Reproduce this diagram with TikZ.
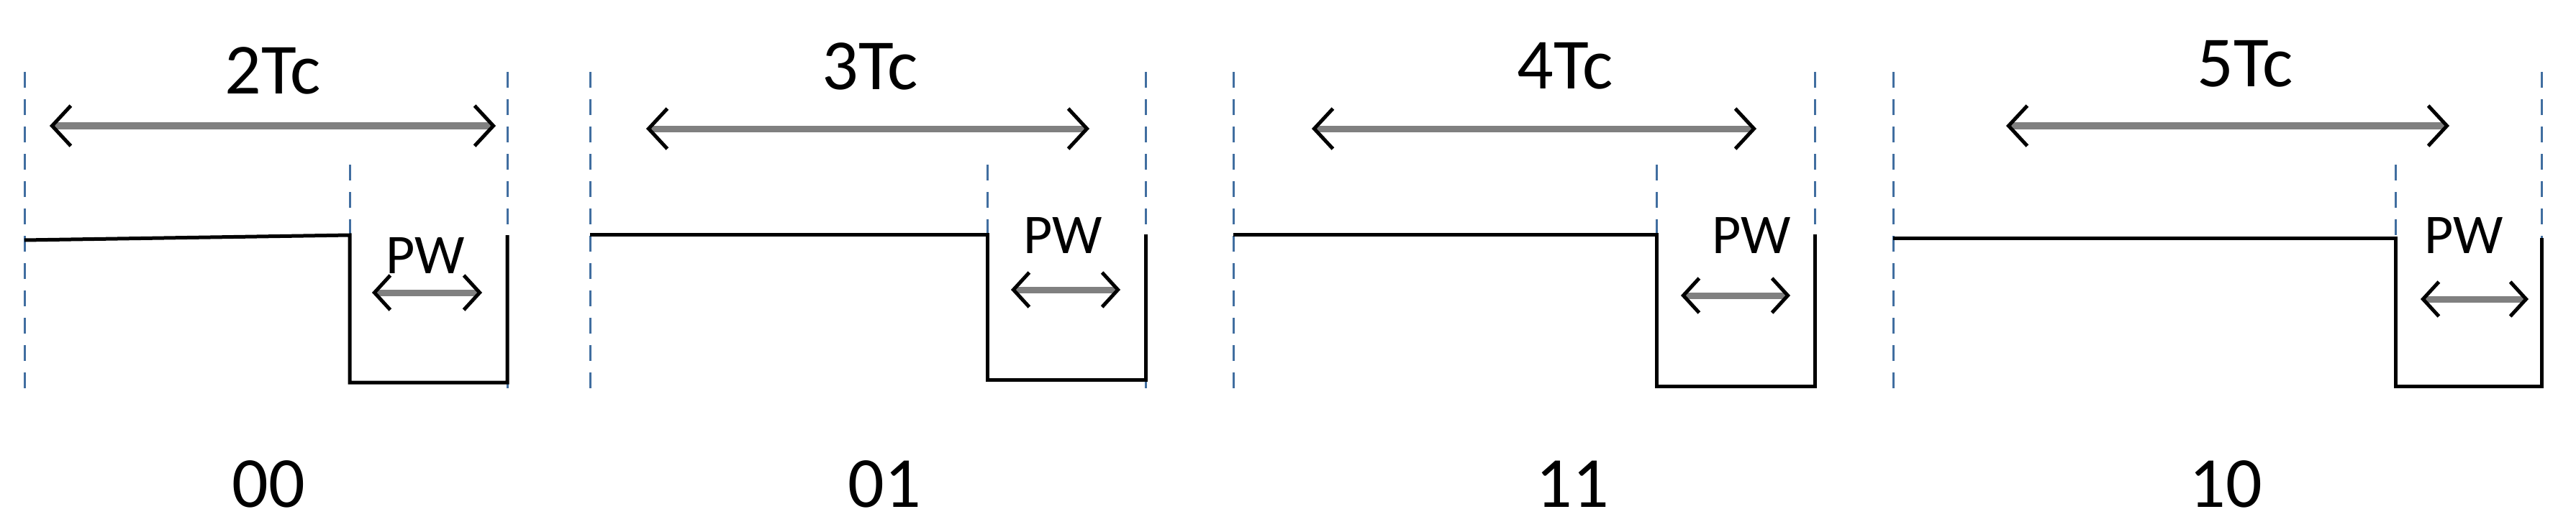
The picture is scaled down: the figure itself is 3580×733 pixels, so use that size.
\documentclass[tikz,border=0pt]{standalone}
\usepackage{fontspec}
\setmainfont{Carlito}
\usetikzlibrary{arrows.meta}
\definecolor{dblue}{RGB}{65,110,160}
\definecolor{agray}{RGB}{128,128,128}
\begin{document}
\begin{tikzpicture}[x=1pt,y=-1pt,
  guide/.style={dblue,line width=3pt,dash pattern=on 22pt off 16pt},
  sig/.style={black,line width=5pt},
  dim/.style={agray,line width=9pt,{Straight Barb[black,length=26pt,width=56pt,line width=5pt]}-{Straight Barb[black,length=26pt,width=56pt,line width=5pt]}},
  pdim/.style={agray,line width=9pt,{Straight Barb[black,length=22pt,width=48pt,line width=5pt]}-{Straight Barb[black,length=22pt,width=48pt,line width=5pt]}},
  big/.style={font=\fontsize{100}{100}\selectfont,inner sep=0pt},
  small/.style={font=\fontsize{78}{78}\selectfont,inner sep=0pt}]
\useasboundingbox (0,0) rectangle (3580,733);
\foreach \i/\L/\P/\R/\H/\Hp/\Lo/\al/\ar/\ay/\tx/\ty/\T/\pwx/\pwy/\pl/\pr/\py/\cx/\C in {
 a/34/486/705/334/327/532/69/689/175/379/98/2Tc/591/355/517/670/407/373/00,
 b/820/1372/1592/326/326/528/898/1514/179/1209/92/3Tc/1477/327/1405/1557/403/1229/01,
 c/1714/2302/2522/326/326/537/1823/2441/179/2175/92/4Tc/2434/327/2336/2488/411/2185/11,
 d/2631/3329/3532/331/331/537/2788/3404/175/3120/89/5Tc/3424/327/3364/3514/416/3093/10}{
  \coordinate (\i l0) at (\L,100); \coordinate (\i l1) at (\L,547);
  \coordinate (\i p0) at (\P,229); \coordinate (\i p1) at (\P,\Lo);
  \coordinate (\i r0) at (\R,100); \coordinate (\i r1) at (\R,547);
  \draw[guide] (\i l0) -- (\i l1);
  \draw[guide] (\i p0) -- (\P,\Hp);
  \draw[guide] (\i r0) -- (\i r1);
  \coordinate (\i h0) at (\L,\H); \coordinate (\i h1) at (\P,\Hp);
  \coordinate (\i lo) at (\R,\Lo); \coordinate (\i rh) at (\R,\Hp);
  \draw[sig] (\i h0) -- (\i h1) -- (\i p1) -- (\i lo) -- (\i rh);
  \coordinate (\i a0) at (\al,\ay); \coordinate (\i a1) at (\ar,\ay);
  \draw[dim] (\i a0) -- (\i a1);
  \node[big] (\i T) at (\tx,\ty) {\T};
  \node[small] (\i pw) at (\pwx,\pwy) {PW};
  \coordinate (\i b0) at (\pl,\py); \coordinate (\i b1) at (\pr,\py);
  \draw[pdim] (\i b0) -- (\i b1);
  \node[big] (\i C) at (\cx,673) {\C};
}
\end{tikzpicture}
\end{document}
